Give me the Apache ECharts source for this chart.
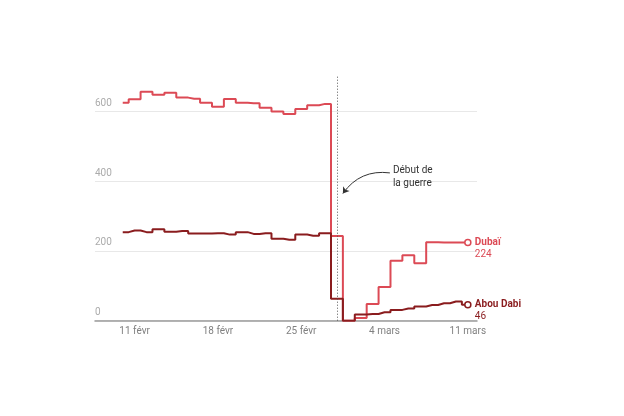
<!DOCTYPE html>
<html>
<head>
<meta charset="utf-8">
<script src="https://cdn.jsdelivr.net/npm/echarts@6/dist/echarts.min.js"></script>
<style>
html,body{margin:0;padding:0;background:#fff;}
#chart{width:624px;height:416px;}
</style>
</head>
<body>
<div id="chart"></div>
<script>
// Dates (day index 0 = 10 févr)
const dates = ['10 févr','11 févr','12 févr','13 févr','14 févr','15 févr','16 févr','17 févr','18 févr','19 févr','20 févr','21 févr','22 févr','23 févr','24 févr','25 févr','26 févr','27 févr','28 févr','1 mars','2 mars','3 mars','4 mars','5 mars','6 mars','7 mars','8 mars','9 mars','10 mars','11 mars'];
const dubai = [625,635,657,648,654,640,637,625,614,636,625,624,611,600,593,607,618,622,243,0,8,48,97,172,188,165,225,224,224,224];
const abuDhabi = [254,259,254,262,255,257,250,250,251,247,254,249,251,235,232,247,244,251,63,0,18,19,24,31,35,41,45,50,55,46];
const tickDays = [1,8,15,22,29];
const tickLabels = ['11 févr','18 févr','25 févr','4 mars','11 mars'];
const yTicks = [0,200,400,600];
const warStartDay = 18;
const annotationText = 'Début de\nla guerre';
const annotationAt = [22.7, 413];
const arrowFrom = [22.45, 424];
const arrowTo = [18.5, 365];

const RED = '#dc4a55';
const DARK = '#8a1c1e';
const FONT = 'Roboto, "Noto Sans", sans-serif';

function toPairs(arr){ return arr.map((v,i)=>[i,v]); }
function lastSymbol(len){ return (val, p) => p.dataIndex === len-1 ? 'circle' : 'none'; }

const chart = echarts.init(document.getElementById('chart'), null, {renderer:'canvas'});
chart.setOption({
  animation:false,
  backgroundColor:'#fff',
  grid:{left:95, right:147, top:76.7, bottom:95.3, containLabel:false},
  xAxis:{
    type:'value', min:-2.33, max:29.77,
    splitLine:{show:false},
    axisTick:{show:false},
    axisLine:{show:true, onZero:true, lineStyle:{color:'#9a9a9a', width:1.5}},
    axisLabel:{
      customValues:tickDays,
      formatter:(v)=>{ const i = tickDays.indexOf(Math.round(v)); return i>=0 ? tickLabels[i] : ''; },
      color:'#808080', fontSize:10, fontFamily:FONT, margin:6
    }
  },
  yAxis:{
    type:'value', min:0, max:700, interval:200,
    axisLine:{show:false}, axisTick:{show:false},
    splitLine:{show:true, showMaxLine:false, lineStyle:{color:'#e8e8e8', width:1}},
    axisLabel:{
      inside:true, margin:0, showMaxLabel:false,
      formatter:(v)=> yTicks.indexOf(v)>=0 ? String(v) : '',
      verticalAlign:'bottom', padding:[0,0,3,0],
      color:'#ababab', fontSize:10, fontFamily:FONT
    }
  },
  series:[
    {
      name:'Dubaï', type:'line', step:'middle',
      data:toPairs(dubai),
      symbol:lastSymbol(dubai.length), symbolSize:6, showSymbol:true,
      itemStyle:{color:'#fff', borderColor:RED, borderWidth:1.5},
      lineStyle:{color:RED, width:2},
      z:2,
      endLabel:{
        show:true, distance:7, offset:[0,6],
        formatter:(p)=>'{n|Dubaï}\n{v|'+p.value[1]+'}',
        rich:{
          n:{color:RED, fontWeight:'bold', fontSize:10, fontFamily:FONT, lineHeight:12},
          v:{color:RED, fontSize:10, fontFamily:FONT, lineHeight:12}
        }
      },
      markLine:{
        silent:true, symbol:['none','none'],
        label:{show:false},
        lineStyle:{color:'#555', type:[1,2], width:1},
        data:[{xAxis:warStartDay}]
      },
      markPoint:{
        silent:true,
        symbol:'circle', symbolSize:0.1,
        itemStyle:{color:'rgba(0,0,0,0)'},
        label:{
          show:true, position:'right', distance:0,
          formatter:annotationText,
          color:'#333', fontSize:10, fontFamily:FONT, lineHeight:13, align:'left'
        },
        data:[{coord:annotationAt}]
      }
    },
    {
      name:'Abou Dabi', type:'line', step:'middle',
      data:toPairs(abuDhabi),
      symbol:lastSymbol(abuDhabi.length), symbolSize:6, showSymbol:true,
      itemStyle:{color:'#fff', borderColor:DARK, borderWidth:1.5},
      lineStyle:{color:DARK, width:2},
      z:3,
      endLabel:{
        show:true, distance:7, offset:[0,6],
        formatter:(p)=>'{n|Abou Dabi}\n{v|'+p.value[1]+'}',
        rich:{
          n:{color:DARK, fontWeight:'bold', fontSize:10, fontFamily:FONT, lineHeight:12},
          v:{color:DARK, fontSize:10, fontFamily:FONT, lineHeight:12}
        }
      }
    },
    {
      name:'arrow', type:'lines', coordinateSystem:'cartesian2d',
      silent:true, z:4,
      symbol:['none','arrow'], symbolSize:6,
      lineStyle:{color:'#333', width:1, curveness:-0.3, opacity:1},
      data:[{coords:[arrowFrom, arrowTo]}]
    }
  ]
});
</script>
</body>
</html>
